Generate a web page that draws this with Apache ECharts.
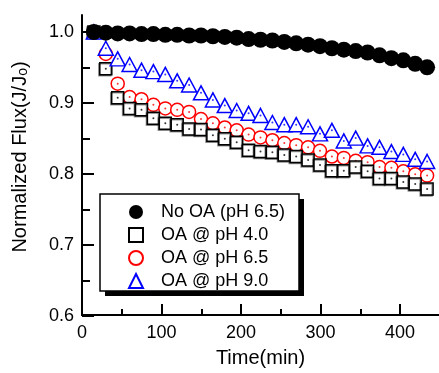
<!DOCTYPE html>
<html>
<head>
<meta charset="utf-8">
<script src="https://cdn.jsdelivr.net/npm/echarts@6/dist/echarts.min.js"></script>
<style>
html,body{margin:0;padding:0;background:#fff;}
#chart{width:439px;height:373px;}
</style>
</head>
<body>
<div id="chart"></div>
<script>
var times = [15,30,45,60,75,90,105,120,135,150,165,180,195,210,225,240,255,270,285,300,315,330,345,360,375,390,405,420,435];
var noOA = [1.000,0.999,0.998,0.998,0.997,0.997,0.996,0.996,0.995,0.995,0.994,0.993,0.992,0.990,0.989,0.988,0.986,0.984,0.982,0.980,0.977,0.975,0.973,0.971,0.967,0.963,0.960,0.955,0.950];
var ph40 = [1.000,0.948,0.907,0.892,0.890,0.878,0.871,0.869,0.863,0.862,0.854,0.849,0.844,0.833,0.831,0.830,0.826,0.824,0.819,0.812,0.804,0.804,0.809,0.803,0.793,0.793,0.788,0.785,0.778];
var ph65 = [1.000,0.969,0.927,0.908,0.905,0.897,0.892,0.890,0.887,0.877,0.871,0.865,0.861,0.855,0.851,0.847,0.843,0.840,0.837,0.832,0.824,0.822,0.818,0.816,0.809,0.808,0.803,0.799,0.797];
var ph90 = [1.000,0.977,0.962,0.954,0.946,0.944,0.940,0.931,0.925,0.914,0.904,0.896,0.889,0.885,0.882,0.872,0.869,0.869,0.866,0.856,0.861,0.846,0.850,0.839,0.837,0.831,0.827,0.820,0.817];
var seriesNames = ['No OA (pH 6.5)','OA @ pH 4.0','OA @ pH 6.5','OA @ pH 9.0'];
var xTicks = [0,100,200,300,400];
var yTicks = [0.6,0.7,0.8,0.9,1.0];

function pairs(ys){ return times.map(function(t,i){ return [t, ys[i]]; }); }

var FONT = 'Liberation Sans, Arial, sans-serif';
var chart = echarts.init(document.getElementById('chart'), null, {renderer:'canvas'});

function dots(ys, color){
  return {type:'scatter', name:'_d', data:pairs(ys), symbol:'circle', symbolSize:2,
    itemStyle:{color:color}, silent:true, xAxisIndex:0, yAxisIndex:0};
}

var option = {
  animation:false,
  backgroundColor:'#fff',
  grid:[
    {left:82, top:15, width:358, bottom:57},
    {left:82, top:32, width:318, bottom:57}
  ],
  xAxis:[
    {gridIndex:0, type:'value', min:0, max:450,
     axisLine:{onZero:false, lineStyle:{color:'#000', width:2}},
     axisTick:{show:false}, axisLabel:{show:false}, splitLine:{show:false},
     name:'Time(min)', nameLocation:'middle', nameGap:33,
     nameTextStyle:{color:'#000', fontSize:20, fontFamily:FONT}},
    {gridIndex:1, type:'value', min:xTicks[0], max:xTicks[xTicks.length-1], interval:100,
     axisLine:{show:false, onZero:false},
     axisTick:{show:true, inside:true, length:12, lineStyle:{color:'#000', width:2}},
     minorTick:{show:true, splitNumber:2, length:7, lineStyle:{color:'#000', width:2}},
     axisLabel:{color:'#000', fontSize:18, fontFamily:FONT, margin:8},
     splitLine:{show:false}}
  ],
  yAxis:[
    {gridIndex:0, type:'value', min:0.6, max:1.024,
     axisLine:{show:true, onZero:false, lineStyle:{color:'#000', width:2}},
     axisTick:{show:false}, axisLabel:{show:false}, splitLine:{show:false}},
    {gridIndex:1, type:'value', min:yTicks[0], max:yTicks[yTicks.length-1], interval:0.1,
     axisLine:{show:false, onZero:false},
     axisTick:{show:true, inside:true, length:12, lineStyle:{color:'#000', width:2}},
     minorTick:{show:true, splitNumber:2, length:8, lineStyle:{color:'#000', width:2}},
     axisLabel:{color:'#000', fontSize:18, fontFamily:FONT, margin:8,
       formatter:function(v){ return v.toFixed(1); }},
     splitLine:{show:false}}
  ],
  legend:{
    data:seriesNames, orient:'vertical', left:100, top:194, z:6,
    padding:[9,12,5,28], itemGap:5, itemWidth:14, itemHeight:14,
    backgroundColor:'transparent', borderWidth:0,
    textStyle:{color:'#000', fontSize:18, fontFamily:FONT, padding:[0,0,0,13]},
    selectedMode:false
  },
  graphic:[
    {type:'rect', z:5, shape:{x:105, y:199, width:199, height:97}, style:{fill:'#000'}},
    {type:'rect', z:5, shape:{x:100, y:194, width:199, height:97}, style:{fill:'#fff', stroke:'#000', lineWidth:1.5}},
    {
    type:'text', x:20, y:157, rotation:Math.PI/2,
    style:{
      text:'{a|Normalized Flux(J/J}{s|o}{a|)}',
      textAlign:'center', textVerticalAlign:'middle', fill:'#000',
      rich:{
        a:{fontSize:20, lineHeight:20, fontFamily:FONT, fill:'#000', verticalAlign:'middle'},
        s:{fontSize:14, lineHeight:14, fontFamily:FONT, fill:'#000', verticalAlign:'bottom', padding:[10,0,0,0]}
      }
    }
  }],
  series:[
    {type:'scatter', name:seriesNames[2], data:pairs(ph65), symbol:'circle', symbolSize:13,
     itemStyle:{color:'#fff', borderColor:'#ff0000', borderWidth:1.5, opacity:1}},
    dots(ph65,'#ff0000'),
    {type:'scatter', name:seriesNames[1], data:pairs(ph40), symbol:'rect', symbolSize:12,
     itemStyle:{color:'#fff', borderColor:'#000', borderWidth:1.5, opacity:1,
       shadowColor:'rgba(0,0,0,0.4)', shadowBlur:0, shadowOffsetX:-1, shadowOffsetY:1}},
    dots(ph40,'#000'),
    {type:'scatter', name:seriesNames[3], data:pairs(ph90), symbol:'triangle', symbolSize:[15,14],
     itemStyle:{color:'#fff', borderColor:'#0000ff', borderWidth:1.5, opacity:1}},
    dots(ph90,'#0000ff'),
    {type:'scatter', name:seriesNames[0], data:pairs(noOA), symbol:'circle', symbolSize:16,
     itemStyle:{color:'#000', opacity:1}}
  ]
};
chart.setOption(option);
</script>
</body>
</html>
